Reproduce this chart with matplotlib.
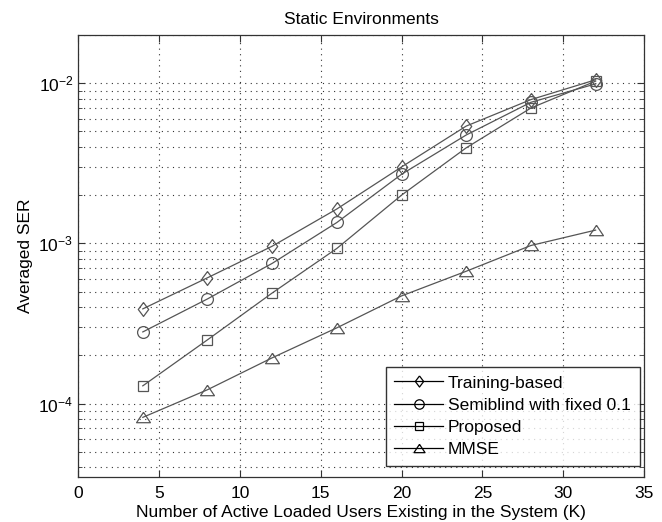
import matplotlib
matplotlib.use("Agg")
import matplotlib.pyplot as plt
from matplotlib.ticker import LogLocator, NullFormatter, MultipleLocator

plt.rcParams['font.family'] = ['Liberation Sans', 'DejaVu Sans']

users = [4, 8, 12, 16, 20, 24, 28, 32]
training_based = [3.9e-4, 6.1e-4, 9.6e-4, 1.64e-3, 3.0e-3, 5.4e-3, 7.9e-3, 1.05e-2]
semiblind = [2.8e-4, 4.5e-4, 7.5e-4, 1.35e-3, 2.7e-3, 4.75e-3, 7.6e-3, 9.9e-3]
proposed = [1.29e-4, 2.5e-4, 4.9e-4, 9.3e-4, 2.0e-3, 3.95e-3, 7.0e-3, 1.03e-2]
mmse = [8.2e-5, 1.22e-4, 1.93e-4, 2.97e-4, 4.7e-4, 6.7e-4, 9.7e-4, 1.21e-3]

labels = ['Training-based', 'Semiblind with fixed 0.1', 'Proposed', 'MMSE']
series = [training_based, semiblind, proposed, mmse]

diamond = [(0, 1), (0.75, 0), (0, -1), (-0.75, 0), (0, 1)]
tri = [(0, 0.75), (1, -0.75), (-1, -0.75), (0, 0.75)]
markers = [diamond, 'o', 's', tri]
msizes = [10, 8.5, 7, 10]

fs = 12.5
fig = plt.figure(figsize=(6.62, 5.22), dpi=100)
ax = fig.add_axes([0.118, 0.087, 0.855, 0.846])

for ys, lab, m, ms in zip(series, labels, markers, msizes):
    ax.plot(users, ys, color='#555555', lw=0.9, marker=m, ms=ms,
            mfc='none', mec='#555555', mew=0.9, label=lab)

ax.set_yscale('log')
ax.set_xlim(0, 35)
ax.set_ylim(3.5e-5, 2e-2)
ax.xaxis.set_major_locator(MultipleLocator(5))
ax.yaxis.set_major_locator(LogLocator(base=10, numticks=10))
ax.yaxis.set_minor_locator(LogLocator(base=10, subs=range(2, 10), numticks=20))
ax.yaxis.set_minor_formatter(NullFormatter())

gkw = dict(color='#333333', linestyle=(0, (1, 4)), linewidth=0.8)
ax.grid(True, which='major', axis='both', **gkw)
ax.grid(True, which='minor', axis='y', **gkw)

ax.tick_params(which='both', direction='in', top=True, right=True, color='#333333')
ax.tick_params(which='major', length=5, labelsize=fs)
ax.tick_params(axis='x', which='major', pad=7)
ax.tick_params(which='minor', length=3)
for sp in ax.spines.values():
    sp.set_color('#333333')
    sp.set_linewidth(0.9)

ax.set_title('Static Environments', fontsize=fs, pad=8)
ax.set_xlabel('Number of Active Loaded Users Existing in the System (K)', fontsize=fs, labelpad=3)
ax.set_ylabel('Averaged SER', fontsize=fs, labelpad=4)

handles, labs = ax.get_legend_handles_labels()
leg = ax.legend(handles, labs, loc='lower right', bbox_to_anchor=(0.992, 0.025),
                fontsize=fs, frameon=True, fancybox=False, edgecolor='black',
                handlelength=2.8, handletextpad=0.3, borderpad=0.5, labelspacing=0.4,
                borderaxespad=0, markerscale=0.8)
leg.get_frame().set_linewidth(1.0)
for h in leg.legend_handles:
    h.set_color('black')
    h.set_markeredgecolor('black')

fig.savefig('out.png', dpi=100)
